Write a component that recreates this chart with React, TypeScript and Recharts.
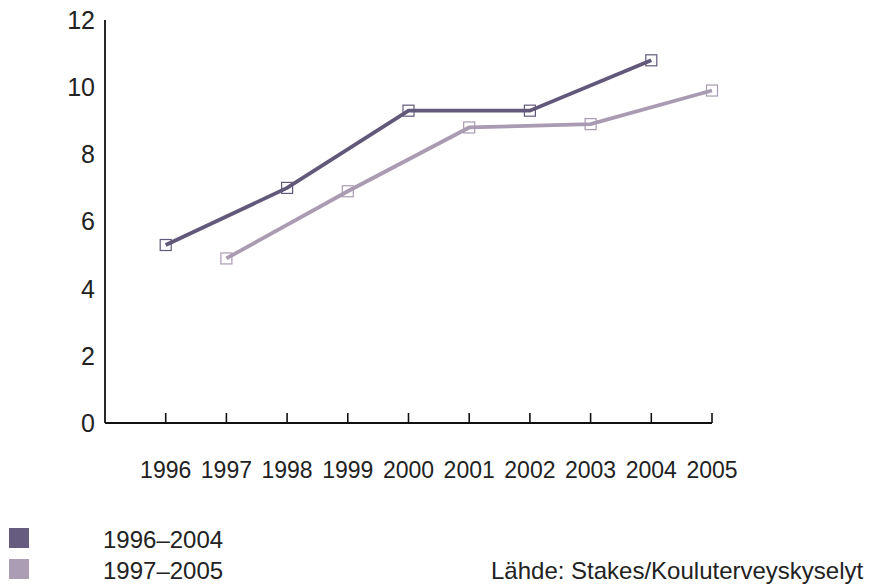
import React from 'react'
import { LineChart, Line, XAxis, YAxis } from 'recharts'

const years = [1996, 1997, 1998, 1999, 2000, 2001, 2002, 2003, 2004, 2005]
const series9604 = [5.3, null, 7.0, null, 9.3, null, 9.3, null, 10.8, null]
const series9705 = [null, 4.9, null, 6.9, null, 8.8, null, 8.9, null, 9.9]
const yTicks = [0, 2, 4, 6, 8, 10, 12]
const legendLabels = ['1996–2004', '1997–2005']
const sourceText = 'Lähde: Stakes/Kouluterveyskyselyt'

const DARK = '#62587a'
const LIGHT = '#a99bb2'
const FONT = '"Liberation Sans", Arial, sans-serif'

const data = years.map((year, i) => ({
  year,
  a: series9604[i],
  b: series9705[i],
}))

// square hollow marker
const SquareDot = (color: string) => (props: any) => {
  const { cx, cy, value } = props
  if (value == null || cx == null || cy == null) return null
  return (
    <rect
      key={`${cx}-${cy}`}
      x={cx - 5.5}
      y={cy - 5.5}
      width={11}
      height={11}
      fill="none"
      stroke={color}
      strokeWidth={1.2}
    />
  )
}

// ticks point up into the plot, labels well below the axis
const YearTick = (props: any) => {
  const { x, y, payload } = props
  return (
    <g>
      <line x1={x} y1={y} x2={x} y2={y - 10} stroke="#111" strokeWidth={1.6} />
      <text
        x={x}
        y={y + 55}
        textAnchor="middle"
        fill="#222"
        fontSize={23}
        fontFamily={FONT}
      >
        {payload.value}
      </text>
    </g>
  )
}

export default function App() {
  return (
    <div
      style={{
        position: 'absolute',
        left: 0,
        top: 0,
        width: 870,
        height: 585,
        background: '#fff',
        fontFamily: FONT,
      }}
    >
      <LineChart
        width={870}
        height={585}
        data={data}
        margin={{ top: 20, right: 158, left: 0, bottom: 0 }}
      >
        <XAxis
          dataKey="year"
          type="number"
          domain={[1995, 2005]}
          ticks={years}
          height={162}
          tickSize={0}
          tickMargin={0}
          tickLine={false}
          axisLine={{ stroke: '#111', strokeWidth: 1.8 }}
          tick={<YearTick />}
          interval={0}
        />
        <YAxis
          type="number"
          domain={[0, 12]}
          ticks={yTicks}
          width={105}
          tickSize={0}
          tickMargin={10}
          tickLine={false}
          axisLine={{ stroke: '#111', strokeWidth: 1.8 }}
          tick={{ fill: '#222', fontSize: 25, fontFamily: FONT }}
        />
        <Line
          dataKey="a"
          stroke={DARK}
          strokeWidth={3.8}
          connectNulls
          dot={SquareDot(DARK)}
          activeDot={false}
          isAnimationActive={false}
        />
        <Line
          dataKey="b"
          stroke={LIGHT}
          strokeWidth={3.8}
          connectNulls
          dot={SquareDot(LIGHT)}
          activeDot={false}
          isAnimationActive={false}
        />
      </LineChart>

      {/* legend */}
      {legendLabels.map((label, i) => (
        <div key={label}>
          <div
            style={{
              position: 'absolute',
              left: 9,
              top: 528 + i * 31,
              width: 20,
              height: 20,
              background: i === 0 ? '#665c80' : '#aa9db4',
            }}
          />
          <div
            style={{
              position: 'absolute',
              left: 103,
              top: 526 + i * 31,
              fontSize: 24,
              lineHeight: '28px',
              color: '#222',
            }}
          >
            {label}
          </div>
        </div>
      ))}
      <div
        style={{
          position: 'absolute',
          left: 491,
          top: 557,
          fontSize: 24,
          lineHeight: '28px',
          color: '#222',
          whiteSpace: 'nowrap',
        }}
      >
        {sourceText}
      </div>
    </div>
  )
}
